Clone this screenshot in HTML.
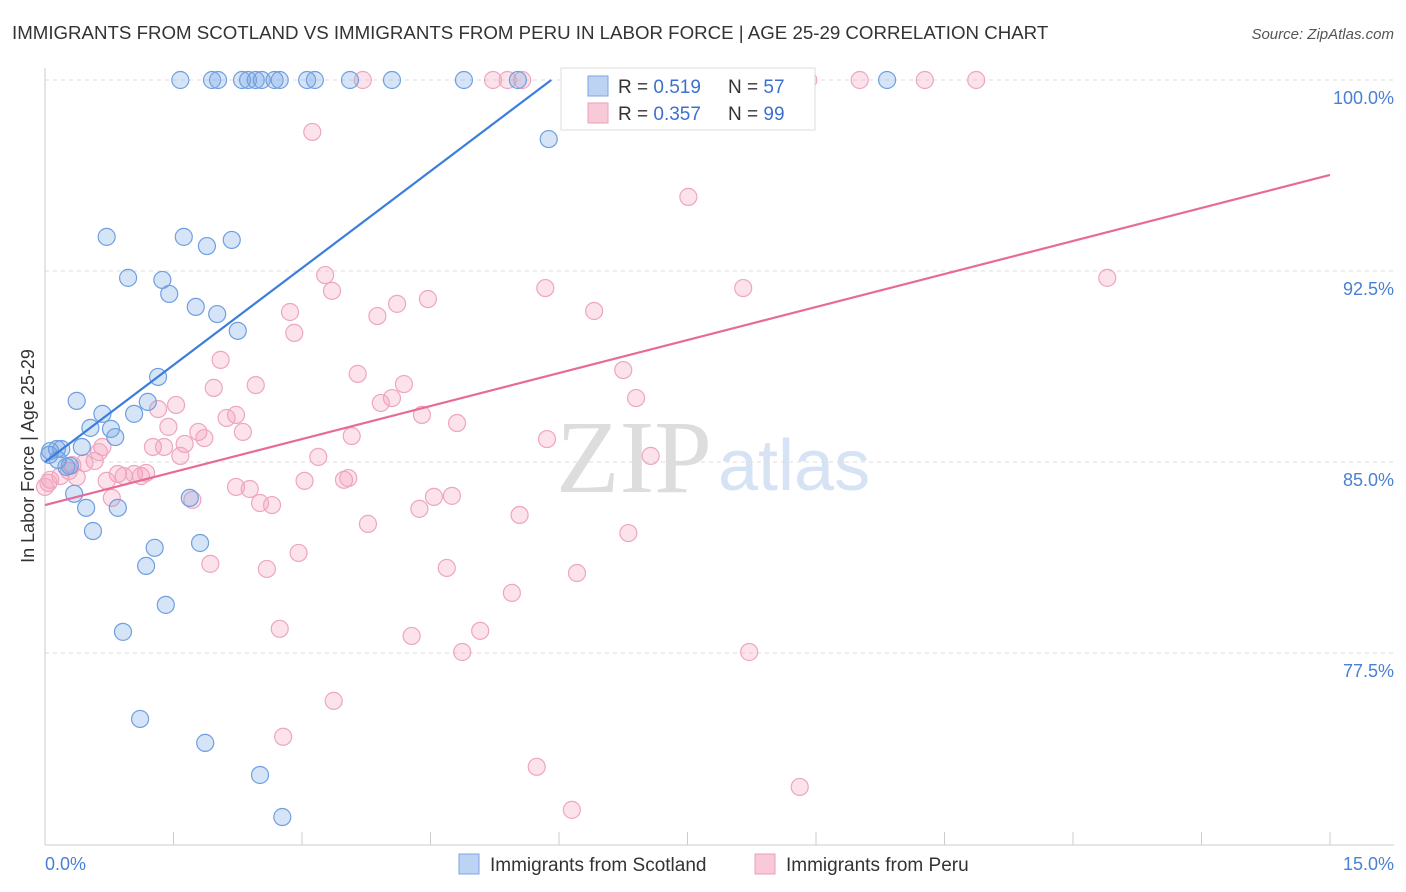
<!DOCTYPE html>
<html><head><meta charset="utf-8"><style>
body{margin:0;background:#fff;font-family:"Liberation Sans",sans-serif;}
svg{display:block}
</style></head><body>
<svg id="chart" width="1406" height="892">
<text x="12" y="39" font-size="18.7" fill="#333">IMMIGRANTS FROM SCOTLAND VS IMMIGRANTS FROM PERU IN LABOR FORCE | AGE 25-29 CORRELATION CHART</text>
<text x="1394" y="39" font-size="15" fill="#555" font-style="italic" text-anchor="end">Source: ZipAtlas.com</text>
<text x="712" y="492" font-size="104" fill="#ddd" text-anchor="end" font-family="Liberation Serif,serif">ZIP</text>
<text x="718" y="490" font-size="72" fill="#d6e3f5">atlas</text>
<g id="grid"></g>
<g id="axes"></g>
<g id="pts"></g>
<g id="lines"></g>
<text transform="translate(34,456) rotate(-90)" font-size="18" fill="#333" text-anchor="middle">In Labor Force | Age 25-29</text>
<text x="45" y="870" font-size="18" fill="#4a7fd6">0.0%</text>
<text x="1394" y="870" font-size="18" fill="#4a7fd6" text-anchor="end">15.0%</text>
<g>
<rect x="561" y="68" width="254" height="62" fill="#fff" stroke="#ddd"/>
<rect x="588" y="76" width="20" height="20" fill="#bcd3f3" stroke="#7ea6e3"/>
<rect x="588" y="103" width="20" height="20" fill="#f8c9d7" stroke="#eba0b8"/>
<text x="618" y="93" font-size="19" fill="#333">R = <tspan fill="#3b70d0">0.519</tspan></text>
<text x="728" y="93" font-size="19" fill="#333">N = <tspan fill="#3b70d0">57</tspan></text>
<text x="618" y="120" font-size="19" fill="#333">R = <tspan fill="#3b70d0">0.357</tspan></text>
<text x="728" y="120" font-size="19" fill="#333">N = <tspan fill="#3b70d0">99</tspan></text>
</g>
<g>
<rect x="459" y="854" width="20" height="20" fill="#bcd3f3" stroke="#7ea6e3"/>
<text x="490" y="871" font-size="19" fill="#333">Immigrants from Scotland</text>
<rect x="755" y="854" width="20" height="20" fill="#f8c9d7" stroke="#eba0b8"/>
<text x="786" y="871" font-size="19" fill="#333">Immigrants from Peru</text>
</g>
</svg>
<script>
const yTicks=[77.5,85.0,92.5,100.0];
const yTickLabels=["77.5%","85.0%","92.5%","100.0%"];
const xTicks=[0,1.5,3,4.5,6,7.5,9,10.5,12,13.5,15];
const scotX=[1.58,1.95,2.02,2.30,2.37,2.46,2.53,2.68,2.74,3.06,3.15,3.56,4.05,4.89,5.52,9.83,5.88,0.72,1.62,2.18,1.89,0.97,1.37,1.45,1.76,2.01,2.25,1.32,0.37,1.20,0.67,1.04,0.53,0.77,0.82,0.14,0.19,0.06,0.43,0.25,0.29,0.34,1.69,0.48,0.85,0.56,1.28,1.81,1.18,1.41,0.91,1.11,1.87,2.51,2.77,0.15,0.05];
const scotY=[100,100,100,100,100,100,100,100,100,100,100,100,100,100,100,100,97.68,93.84,93.84,93.72,93.48,92.23,92.15,91.60,91.09,90.81,90.15,88.34,87.40,87.36,86.89,86.89,86.34,86.30,85.98,85.51,85.51,85.43,85.59,84.81,84.85,83.75,83.59,83.20,83.20,82.29,81.63,81.82,80.92,79.39,78.33,74.91,73.97,72.71,71.06,85.08,85.28];
const peruX=[3.71,5.23,5.40,5.57,6.96,7.65,7.83,8.91,9.51,10.27,10.87,3.12,7.51,12.40,3.27,3.35,5.84,8.15,4.47,4.11,2.86,6.41,3.88,2.91,2.05,3.65,6.75,4.19,2.46,1.97,4.05,3.92,6.90,1.53,1.32,2.23,2.12,4.40,4.81,2.31,1.79,1.44,3.58,1.86,5.86,1.63,1.26,1.39,0.67,0.63,1.58,3.19,7.07,0.58,0.46,0.32,0.28,0.85,1.04,0.92,1.12,1.18,0.72,0.37,0.18,3.03,3.49,3.54,0.06,2.23,2.39,0.78,1.72,4.54,4.75,4.37,2.51,2.65,5.54,3.77,6.81,2.96,1.93,2.59,4.69,6.21,5.45,2.74,4.28,5.08,4.87,8.22,3.37,2.78,5.74,8.81,6.15,0.04,0.0];
const peruY=[100,100,100,100,100,100,100,100,100,100,100,97.96,95.41,92.23,92.34,91.72,91.83,91.83,91.40,91.21,90.89,90.93,90.73,90.07,89.01,88.46,88.61,88.06,88.02,87.91,87.51,87.32,87.51,87.24,87.08,86.85,86.73,86.85,86.53,86.18,86.18,86.38,86.02,85.94,85.90,85.71,85.59,85.59,85.59,85.39,85.24,85.20,85.24,85.04,84.96,84.88,84.65,84.53,84.53,84.45,84.45,84.57,84.26,84.41,84.45,84.26,84.30,84.37,84.30,84.02,83.94,83.59,83.51,83.63,83.67,83.16,83.39,83.31,82.92,82.57,82.21,81.43,81.00,80.80,80.84,80.64,79.86,78.45,78.17,78.37,77.54,77.54,75.62,74.21,73.03,72.24,71.34,84.18,84.02];
const scotLine=[[0,85.0],[5.91,100]];
const peruLine=[[0,83.31],[15,96.27]];
const NS="http://www.w3.org/2000/svg";
const X0=45,X1=1330,Y100=80,PXPER=191/7.5;
function sx(v){return X0+(X1-X0)*v/15;}
function sy(v){return Y100+(100-v)*PXPER;}
function mk(tag,attrs,parent){const e=document.createElementNS(NS,tag);for(const k in attrs)e.setAttribute(k,attrs[k]);parent.appendChild(e);return e;}
const grid=document.getElementById('grid'),axes=document.getElementById('axes'),pts=document.getElementById('pts'),lines=document.getElementById('lines');
yTicks.forEach((t,i)=>{
 const l=mk('line',{x1:X0,x2:1394,y1:sy(t),y2:sy(t),stroke:'#ddd','stroke-dasharray':'4,4'},grid);
 
 
 const tx=mk('text',{x:1394,y:sy(t)+24,'font-size':18,fill:'#4a7fd6','text-anchor':'end'},grid);
 tx.textContent=yTickLabels[i];
 
 
});
const al=mk('line',{x1:X0,x2:X0,y1:68,y2:845,stroke:'#ccc'},axes);


const bl=mk('line',{x1:X0,x2:1394,y1:845,y2:845,stroke:'#ccc'},axes);


xTicks.forEach(t=>{
 const tk=mk('line',{x1:sx(t),x2:sx(t),y1:832,y2:845,stroke:'#ccc'},axes);
 
 
});
function drawPts(xs,ys,fill,stroke,name){
 xs.forEach((x,i)=>{
  const c=mk('circle',{cx:sx(x),cy:sy(ys[i]),r:8.5,fill:fill,stroke:stroke,'stroke-width':1.2},pts);
  
  
 });
}
drawPts(peruX,peruY,'rgba(244,160,187,0.3)','#eea6be','point-peru');
drawPts(scotX,scotY,'rgba(120,165,230,0.3)','#6f9fe0','point-scotland');
const l1=mk('line',{x1:sx(scotLine[0][0]),y1:sy(scotLine[0][1]),x2:sx(scotLine[1][0]),y2:sy(scotLine[1][1]),stroke:'#3b7ddd','stroke-width':2.2},lines);


const l2=mk('line',{x1:sx(peruLine[0][0]),y1:sy(peruLine[0][1]),x2:sx(peruLine[1][0]),y2:sy(peruLine[1][1]),stroke:'#e8699a','stroke-width':2.2},lines);


</script>
</body></html>
